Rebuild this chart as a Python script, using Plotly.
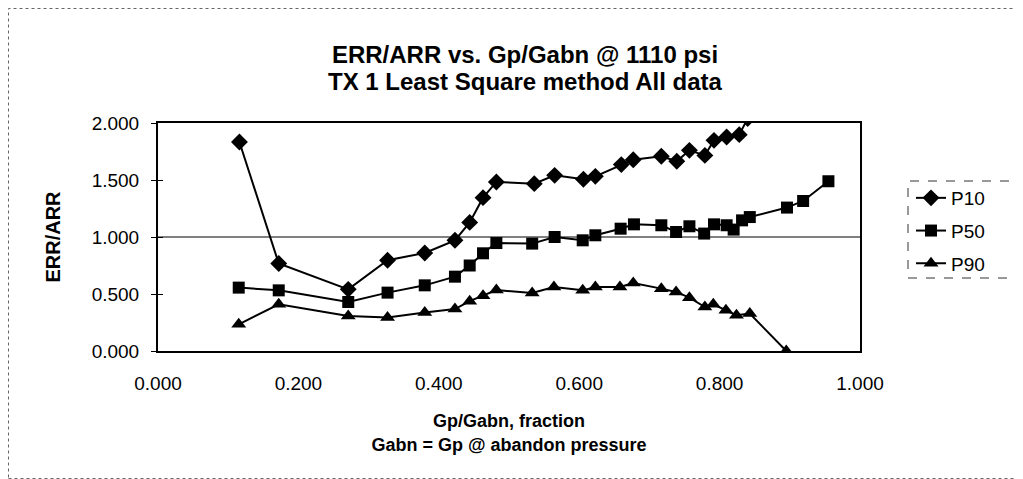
import plotly.graph_objects as go

# ---- data ----
p10_x = [0.116, 0.172, 0.271, 0.327, 0.380, 0.423, 0.444, 0.463, 0.482, 0.536, 0.565,
         0.606, 0.623, 0.660, 0.677, 0.717, 0.739, 0.757, 0.779, 0.792, 0.810, 0.828, 0.840]
p10_y = [1.833, 0.767, 0.541, 0.796, 0.860, 0.971, 1.128, 1.345, 1.483, 1.468, 1.541,
         1.506, 1.532, 1.635, 1.678, 1.708, 1.664, 1.760, 1.716, 1.848, 1.877, 1.898, 2.040]

p50_x = [0.115, 0.172, 0.271, 0.327, 0.380, 0.423, 0.444, 0.463, 0.482, 0.533, 0.565,
         0.605, 0.623, 0.659, 0.678, 0.717, 0.738, 0.757, 0.778, 0.792, 0.810, 0.820,
         0.832, 0.843, 0.896, 0.919, 0.955]
p50_y = [0.556, 0.532, 0.430, 0.512, 0.576, 0.652, 0.750, 0.857, 0.947, 0.942, 1.000,
         0.971, 1.015, 1.073, 1.111, 1.103, 1.044, 1.094, 1.030, 1.111, 1.103, 1.065,
         1.146, 1.175, 1.258, 1.316, 1.489]

p90_x = [0.115, 0.172, 0.271, 0.327, 0.380, 0.423, 0.444, 0.463, 0.482, 0.533, 0.564,
         0.605, 0.623, 0.658, 0.677, 0.717, 0.738, 0.757, 0.779, 0.791, 0.809, 0.824,
         0.843, 0.895]
p90_y = [0.234, 0.410, 0.307, 0.293, 0.337, 0.368, 0.437, 0.484, 0.535, 0.509, 0.561,
         0.532, 0.561, 0.561, 0.596, 0.547, 0.518, 0.468, 0.386, 0.410, 0.357, 0.313,
         0.328, 0.000]

series = [("P10", p10_x, p10_y, "diamond", 13),
          ("P50", p50_x, p50_y, "square", 12),
          ("P90", p90_x, p90_y, "triangle-up", 13)]

x_ticks = [0.0, 0.2, 0.4, 0.6, 0.8, 1.0]
x_labels = ["0.000", "0.200", "0.400", "0.600", "0.800", "1.000"]
y_ticks = [0.0, 0.5, 1.0, 1.5, 2.0]
y_labels = ["0.000", "0.500", "1.000", "1.500", "2.000"]

title_1 = "ERR/ARR vs. Gp/Gabn @ 1110 psi"
title_2 = "TX 1 Least Square method All data"
x_title = "Gp/Gabn, fraction<br>Gabn = Gp @ abandon pressure"
y_title = "ERR/ARR"

FONT = "Liberation Sans, Arial, sans-serif"
W, H = 1015, 471
L, R, T, B = 150, 163, 115, 128
PW, PH = W - L - R, H - T - B


def px_x(sx):  # screen x -> paper x
    return (sx - 8 - L) / PW


def px_y(sy):  # screen y -> paper y
    return (H - B - (sy - 8)) / PH


fig = go.Figure()
for name, xs, ys, sym, sz in series:
    fig.add_trace(go.Scatter(
        x=xs, y=ys, name=name, mode="lines+markers",
        line=dict(color="black", width=2),
        marker=dict(symbol=sym, size=sz, color="black"),
        legendgroup=name,
    ))
# invisible helper trace so that the inner-tick axis is drawn
fig.add_trace(go.Scatter(x=[None], y=[None], yaxis="y2", showlegend=False,
                         hoverinfo="skip"))

# single horizontal gridline at 1.000
fig.add_shape(type="line", xref="paper", x0=0, x1=1, yref="y", y0=1.0, y1=1.0,
              line=dict(color="black", width=1), layer="below")
# outer chart border
fig.add_shape(type="rect", xref="paper", yref="paper",
              x0=(0.5 - L) / PW, x1=(W - 0.5 - L) / PW,
              y0=(H - B - (H - 0.5)) / PH, y1=(H - B - 0.5) / PH,
              line=dict(color="#666666", width=1, dash="dot"))
# legend frame
fig.add_shape(type="rect", xref="paper", yref="paper",
              x0=px_x(908), x1=px_x(1018), y0=px_y(278), y1=px_y(181),
              line=dict(color="#333333", width=1, dash="dash"))

fig.add_annotation(text="<b>" + title_2 + "</b>", xref="paper", yref="paper",
                   x=px_x(525), y=px_y(81), xanchor="center", yanchor="middle",
                   showarrow=False, font=dict(size=24, family=FONT))

fig.update_layout(
    width=W, height=H,
    margin=dict(l=L, r=R, t=T, b=B),
    paper_bgcolor="white", plot_bgcolor="white",
    font=dict(family=FONT, color="black", size=19),
    title=dict(text="<b>" + title_1 + "</b>",
               x=(525 - 8) / W, xanchor="center",
               y=1 - (55 - 8) / H, yanchor="middle",
               font=dict(size=24, family=FONT)),
    showlegend=True,
    legend=dict(x=px_x(911), xanchor="left", y=px_y(179), yanchor="top",
                borderwidth=0, bgcolor="rgba(0,0,0,0)",
                font=dict(size=19, family=FONT), tracegroupgap=5,
                traceorder="grouped"),
    xaxis=dict(range=[0, 1], tickvals=x_ticks, ticktext=x_labels, showgrid=False,
               zeroline=False, showline=True, linecolor="black", linewidth=2, mirror=True,
               ticks="", tickfont=dict(size=19), ticklabelstandoff=14,
               title=dict(text="<b>" + x_title + "</b>",
                          font=dict(size=18), standoff=22)),
    yaxis=dict(range=[0, 2], tickvals=y_ticks, ticktext=y_labels, showgrid=False,
               zeroline=False, showline=True, linecolor="black", linewidth=2, mirror=True,
               ticks="outside", ticklen=5, tickcolor="black", tickwidth=1,
               tickfont=dict(size=19), ticklabelstandoff=8,
               title=dict(text="<b>" + y_title + "</b>", font=dict(size=20), standoff=26)),
    yaxis2=dict(range=[0, 2], overlaying="y", side="left", tickvals=y_ticks,
                showticklabels=False, ticks="inside", ticklen=5, tickcolor="black",
                tickwidth=1, showgrid=False, zeroline=False, showline=False),
)

fig.write_html("out.html")
